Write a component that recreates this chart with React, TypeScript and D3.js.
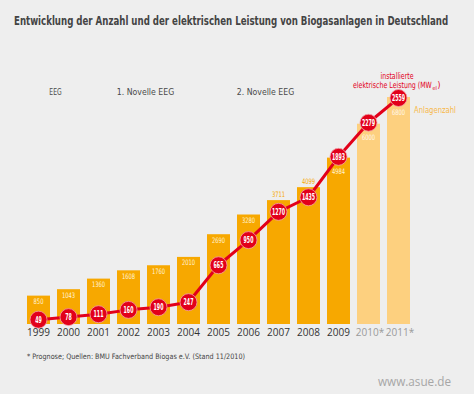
import React, { useLayoutEffect, useRef } from "react";
import * as d3 from "d3";

// Werte
const years = ["1999", "2000", "2001", "2002", "2003", "2004", "2005", "2006", "2007", "2008", "2009", "2010*", "2011*"];
const anlagenzahl = [850, 1043, 1360, 1608, 1760, 2010, 2690, 3280, 3711, 4099, 4984, 6000, 6800];
const leistung = [49, 78, 111, 160, 190, 247, 665, 950, 1270, 1435, 1893, 2279, 2559];
const phases = [
  { label: "EEG", from: "1999", to: "2000" },
  { label: "1. Novelle EEG", from: "2002", to: "2003" },
  { label: "2. Novelle EEG", from: "2006", to: "2007" },
];

const W = 474;
const H = 394;
const RED = "#e2001a";
const ORANGE = "#f7a800";
const LIGHT = "#fdd07f";
const narrow = "'Liberation Sans Narrow', 'DejaVu Sans Condensed', 'Liberation Sans', sans-serif";

// Text horizontal auf eine Zielbreite stauchen
const FitText = ({ x, y, width, children, ...rest }: any) => {
  const ref = useRef<SVGTextElement>(null);
  useLayoutEffect(() => {
    const el = ref.current;
    if (!el) return;
    const w = el.getComputedTextLength();
    const k = w > 0 ? width / w : 1;
    el.setAttribute("transform", `translate(${x},${y}) scale(${k},1)`);
  }, [x, y, width]);
  return (
    <text ref={ref} transform={`translate(${x},${y})`} {...rest}>
      {children}
    </text>
  );
};

const App = () => {
  const x = d3.scaleBand().domain(years).range([23.5, 413.5]).paddingInner(0.2333).paddingOuter(0.1167);
  const yBar = d3.scaleLinear().domain([0, 6800]).range([324, 97]);
  const yLine = d3.scaleLinear().domain([0, 2559]).range([324, 98]);
  const bw = x.bandwidth();
  const cx = (d: string) => (x(d) as number) + bw / 2;
  const r = 8.5;

  const pts: [number, number][] = years.map((d, i) => [cx(d), yLine(leistung[i])]);
  const line = d3.line();

  const barLabel = (d: string, i: number) => {
    const top = yBar(anlagenzahl[i]);
    const cy = yLine(leistung[i]);
    const prog = d.endsWith("*");
    if (cy < top + 3) return { y: cy + r + 8.5, fill: prog ? "#fff8ea" : "#fff3d6" };
    if (cy - r < top + 11) return { y: top - 3, fill: ORANGE };
    return { y: top + 8.5, fill: "#fff3d6" };
  };

  return (
    <svg width={W} height={H} style={{ position: "absolute", left: 0, top: 0 }} fontFamily="'Liberation Sans', Arial, sans-serif">
      <rect width={W} height={H} fill="#eeeeee" />
      <FitText x={14} y={25} width={435} fontSize={12.5} fontWeight={600} fill="#444" fontFamily={narrow}>
        Entwicklung der Anzahl und der elektrischen Leistung von Biogasanlagen in Deutschland
      </FitText>

      {phases.map((p) => {
        const mx = ((x(p.from) as number) + (x(p.to) as number) + bw) / 2;
        const len = p.label.length * 4.1;
        return (
          <text key={p.label} x={mx + 2} y={95} textAnchor="middle" fontSize={9.5} fill="#4a4a4a" fontFamily={narrow} textLength={len} lengthAdjust="spacingAndGlyphs">
            {p.label}
          </text>
        );
      })}

      {years.map((d, i) => (
        <rect key={d} x={x(d)} y={yBar(anlagenzahl[i])} width={bw} height={yBar(0) - yBar(anlagenzahl[i])} fill={d.endsWith("*") ? LIGHT : ORANGE} />
      ))}

      {years.map((d, i) => {
        const l = barLabel(d, i);
        const s = String(anlagenzahl[i]);
        return (
          <text key={d} x={cx(d)} y={l.y} textAnchor="middle" fontSize={7.5} fill={l.fill} fontFamily={narrow} textLength={s.length * 3.3} lengthAdjust="spacingAndGlyphs">
            {s}
          </text>
        );
      })}

      <path d={line(pts) || ""} fill="none" stroke={RED} strokeWidth={3} strokeLinejoin="round" />

      {years.map((d, i) => {
        const s = String(leistung[i]);
        return (
          <g key={d} transform={`translate(${pts[i][0]},${pts[i][1]})`}>
            <circle r={r} fill={RED} stroke="#f3a0a8" strokeWidth={0.8} />
            <text y={3} textAnchor="middle" fontSize={8} fontWeight="bold" fill="#fff" fontFamily={narrow} textLength={s.length * 3.3} lengthAdjust="spacingAndGlyphs">
              {s}
            </text>
          </g>
        );
      })}

      {years.map((d) => (
        <text key={d} x={cx(d) + (d.endsWith("*") ? 1.5 : 0)} y={335.5} textAnchor="middle" fontSize={10} fill={d.endsWith("*") ? "#9a9a9a" : "#333"} fontFamily="'Open Sans', sans-serif">
          {d}
        </text>
      ))}

      <text x={397} y={79} textAnchor="middle" fontSize={8.5} fill={RED} fontFamily={narrow} textLength={33} lengthAdjust="spacingAndGlyphs">
        installierte
      </text>
      <FitText x={353} y={88} width={79} fontSize={8.5} fill={RED} fontFamily={narrow}>
        elektrische Leistung (MW
      </FitText>
      <text x={432.5} y={90} fontSize={5.5} fill={RED} fontFamily={narrow}>
        el
      </text>
      <text x={437.5} y={88} fontSize={8.5} fill={RED} fontFamily={narrow}>
        )
      </text>
      <text x={414} y={113} fontSize={8.5} fill="#f7b84a" fontFamily={narrow} textLength={42} lengthAdjust="spacingAndGlyphs">
        Anlagenzahl
      </text>

      <text x={27} y={358.5} fontSize={7.5} fill="#444" fontFamily={narrow} textLength={218} lengthAdjust="spacingAndGlyphs">
        * Prognose; Quellen: BMU Fachverband Biogas e.V. (Stand 11/2010)
      </text>
      <text x={378} y={386} fontSize={13} fill="#a6a6a6" fontFamily="'Open Sans', sans-serif" textLength={73} lengthAdjust="spacingAndGlyphs">
        www.asue.de
      </text>
    </svg>
  );
};

export default App;
